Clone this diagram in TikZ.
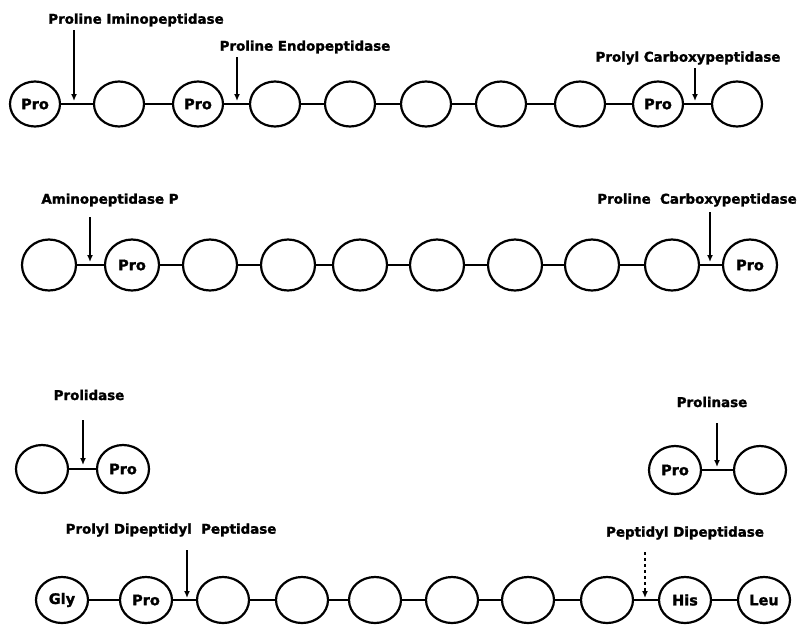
\documentclass[tikz,border=0pt]{standalone}
\usepackage{fontspec}
\setmainfont[BoldFeatures={FakeBold=1.6}]{DejaVu Sans}
\usetikzlibrary{shapes.geometric, arrows.meta}
\tikzset{
  res/.style={ellipse, draw, line width=2.2pt, inner sep=0pt,
    minimum width=52pt, minimum height=48pt,
    font=\fontsize{14.5}{16}\selectfont\bfseries},
  enzyme/.style={font=\fontsize{13.4}{15}\selectfont\bfseries, inner sep=0pt},
  bond/.style={line width=2.2pt},
  cut/.style={-{Latex[length=7pt,width=6pt]}, line width=1.4pt}
}

\begin{document}
\begin{tikzpicture}[x=1pt, y=-1pt]
  \useasboundingbox (0,0) rectangle (798,625);

  % Row 1
  \foreach \x/\t [count=\i] in {35/Pro,119/{},198/Pro,275/{},350/{},426/{},501/{},580/{},658/Pro,737/{}}
    \node[res, minimum width=50pt, minimum height=45pt] (a\i) at (\x,104) {\t};
  \foreach \i in {1,...,9} {
    \pgfmathtruncatemacro{\j}{\i+1}
    \draw[bond] (a\i) -- (a\j);
  }
  \node[enzyme] (imino) at (136,20) {Proline Iminopeptidase};
  \node[enzyme] (endo) at (305,47) {Proline Endopeptidase};
  \node[enzyme] (pcarb) at (688,58) {Prolyl Carboxypeptidase};
  \coordinate (imino_s) at (74,30);  \coordinate (imino_t) at (74,101);
  \coordinate (endo_s) at (237,57);  \coordinate (endo_t) at (237,101);
  \coordinate (pcarb_s) at (695,68); \coordinate (pcarb_t) at (695,101);
  \draw[cut] (imino_s) -- (imino_t);
  \draw[cut] (endo_s) -- (endo_t);
  \draw[cut] (pcarb_s) -- (pcarb_t);

  % Row 2
  \foreach \x/\t [count=\i] in {49/{},132/Pro,210/{},288/{},360/{},437/{},515/{},592/{},672/{},750/Pro}
    \node[res, minimum width=54pt, minimum height=51pt] (b\i) at (\x,265) {\t};
  \foreach \i in {1,...,9} {
    \pgfmathtruncatemacro{\j}{\i+1}
    \draw[bond] (b\i) -- (b\j);
  }
  \node[enzyme] (amino) at (110,200) {Aminopeptidase P};
  \node[enzyme] (carb) at (697,200) {Proline\ \ Carboxypeptidase};
  \coordinate (amino_s) at (90,217); \coordinate (amino_t) at (90,262);
  \coordinate (carb_s) at (710,212); \coordinate (carb_t) at (710,262);
  \draw[cut] (amino_s) -- (amino_t);
  \draw[cut] (carb_s) -- (carb_t);

  % Row 3
  \node[res] (c1) at (42,469) {};
  \node[res] (c2) at (123,469) {Pro};
  \node[res] (d1) at (675,470) {Pro};
  \node[res] (d2) at (760,470) {};
  \draw[bond] (c1) -- (c2);
  \draw[bond] (d1) -- (d2);
  \node[enzyme] (prolid) at (89,395) {Prolidase};
  \node[enzyme] (prolin) at (712,402) {Prolinase};
  \coordinate (prolid_s) at (83,420); \coordinate (prolid_t) at (83,465);
  \coordinate (prolin_s) at (717,423); \coordinate (prolin_t) at (717,467);
  \draw[cut] (prolid_s) -- (prolid_t);
  \draw[cut] (prolin_s) -- (prolin_t);

  % Row 4
  \foreach \x/\t [count=\i] in {62/Gly,146/Pro,223/{},302/{},375/{},452/{},528/{},607/{},685/His,764/Leu}
    \node[res, minimum height=46pt] (e\i) at (\x,600) {\t};
  \foreach \i in {1,...,9} {
    \pgfmathtruncatemacro{\j}{\i+1}
    \draw[bond] (e\i) -- (e\j);
  }
  \node[enzyme] (dipep) at (171,530) {Prolyl Dipeptidyl\ \ Peptidase};
  \node[enzyme] (pepdi) at (685,533) {Peptidyl Dipeptidase};
  \coordinate (dipep_s) at (187,550); \coordinate (dipep_t) at (187,598);
  \coordinate (pepdi_s) at (645,552); \coordinate (pepdi_t) at (645,598);
  \draw[cut] (dipep_s) -- (dipep_t);
  \draw[cut, dashed] (pepdi_s) -- (pepdi_t);
\end{tikzpicture}
\end{document}
